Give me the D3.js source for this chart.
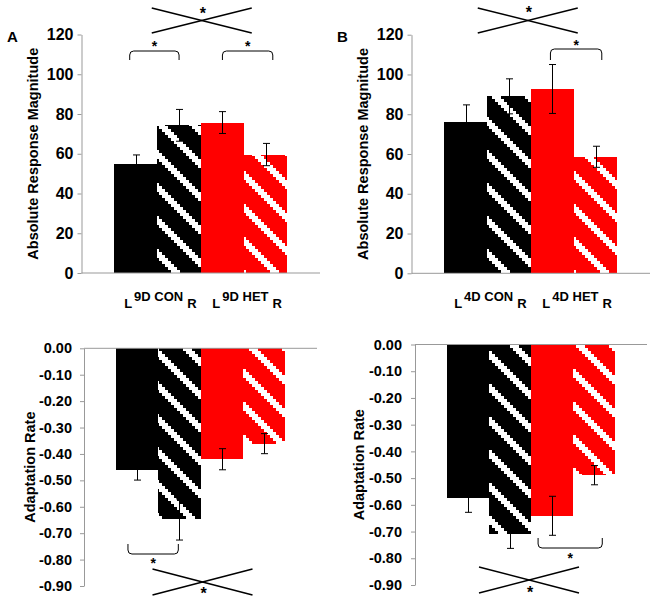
<!DOCTYPE html>
<html><head><meta charset="utf-8">
<script src="https://cdn.jsdelivr.net/npm/d3@7"></script>
<style>
body{margin:0;background:#fff;}
svg text{font-family:"Liberation Sans",Arial,sans-serif;font-weight:bold;fill:#000;}
</style></head>
<body><svg id="c" width="657" height="602"></svg>
<script>
// ---- data ----
const bars = ["L CON", "R CON", "L HET", "R HET"];
const barFill = ["black", "blackHatch", "red", "redHatch"];
const magA = [54.6, 74.3, 75.7, 59.6];
const magAErr = [4.8, 8.0, 5.5, 5.6];
const magB = [76.0, 89.0, 92.7, 58.6];
const magBErr = [8.7, 8.8, 12.3, 5.3];
const rateA = [-0.459, -0.648, -0.420, -0.361];
const rateAErr = [0.040, 0.078, 0.040, 0.038];
const rateB = [-0.576, -0.710, -0.641, -0.489];
const rateBErr = [0.052, 0.053, 0.073, 0.036];
const magTicks = [0, 20, 40, 60, 80, 100, 120];
const rateTicks = [0, -0.1, -0.2, -0.3, -0.4, -0.5, -0.6, -0.7, -0.8, -0.9];
const rateTickLabels = ["0.00", "-0.10", "-0.20", "-0.30", "-0.40", "-0.50", "-0.60", "-0.70", "-0.80", "-0.90"];
const groupsA = ["9D CON", "9D HET"];
const groupsB = ["4D CON", "4D HET"];

const svg = d3.select("#c");
const defs = svg.append("defs");
function makePattern(id, color) {
  const c = 3, n = 11, P = c * n, w = 3;
  const p = defs.append("pattern").attr("id", id).attr("patternUnits", "userSpaceOnUse")
    .attr("width", P).attr("height", P);
  p.append("rect").attr("width", P).attr("height", P).attr("fill", color);
  for (let i = 0; i < n; i++) {
    for (let k = 0; k < w; k++) {
      const col = (i + k) % n;
      p.append("rect").attr("x", col * c).attr("y", i * c).attr("width", c).attr("height", c)
        .attr("fill", "#fff").attr("shape-rendering", "crispEdges");
    }
  }
}
makePattern("blackHatch", "#000");
makePattern("redHatch", "#ff0000");
const fillOf = f => f === "black" ? "#000" : f === "red" ? "#ff0000" : `url(#${f})`;

function panel(o) {
  const g = svg.append("g");
  const x = d3.scaleBand().domain(bars).range([o.x0, o.x1]).paddingInner(0).paddingOuter(0.75);
  const y = d3.scaleLinear().domain(o.domain).range([o.yA, o.yB]);
  const base = y(0);
  g.selectAll("rect.bar").data(o.values).join("rect").attr("class", "bar")
    .attr("x", (d, i) => x(bars[i])).attr("width", x.bandwidth())
    .attr("y", d => Math.min(y(d), base)).attr("height", d => Math.abs(y(d) - base))
    .attr("fill", (d, i) => fillOf(barFill[i])).attr("shape-rendering", "crispEdges");
  o.values.forEach((v, i) => {
    const cx = Math.round(x(bars[i]) + x.bandwidth() / 2) + 0.5;
    const y1 = y(v - o.errs[i]), y2 = y(v + o.errs[i]);
    g.append("line").attr("x1", cx).attr("x2", cx).attr("y1", y1).attr("y2", y2).attr("stroke", "#000").attr("stroke-width", 1);
    [y1, y2].forEach(yy => g.append("line").attr("x1", cx - 3.5).attr("x2", cx + 3.5).attr("y1", yy).attr("y2", yy).attr("stroke", "#000").attr("stroke-width", 1));
  });
  const ax = g.append("g").attr("transform", `translate(${o.x0},0)`)
    .call(d3.axisLeft(y).tickValues(o.ticks).tickSize(4).tickSizeOuter(0).tickPadding(o.tickPad)
      .tickFormat((d, i) => o.tickLabels[i]));
  ax.select(".domain").attr("stroke", "#999");
  ax.selectAll(".tick line").attr("stroke", "#999");
  ax.selectAll(".tick text").attr("font-size", o.tickFont).attr("fill", "#000")
    .style("font-family", '"Liberation Sans",Arial,sans-serif').style("font-weight", "bold");
  g.append("line").attr("x1", o.x0).attr("x2", o.x1).attr("y1", base).attr("y2", base).attr("stroke", "#999");
  g.append("text").attr("transform", `translate(${o.titleX},${(o.yA + o.yB) / 2}) rotate(-90)`)
    .attr("text-anchor", "middle").attr("dy", "0.35em").attr("font-size", 14.5).text(o.title);
  return { x, y, g };
}

function cross(cx, yT, yB, starY) {
  svg.append("line").attr("x1", cx - 50).attr("y1", yT).attr("x2", cx + 50).attr("y2", yB).attr("stroke", "#000").attr("stroke-width", 1.5);
  svg.append("line").attr("x1", cx - 50).attr("y1", yB).attr("x2", cx + 50).attr("y2", yT).attr("stroke", "#000").attr("stroke-width", 1.5);
  svg.append("text").attr("x", cx + 1).attr("y", starY).attr("text-anchor", "middle").attr("font-size", 16).text("*");
}
function bracket(xa, xb, yLine, yEnd, starY) {
  const dir = yEnd > yLine ? 1 : -1, r = 4;
  svg.append("path").attr("d", `M${xa},${yEnd} L${xa},${yLine + dir * r} Q${xa},${yLine} ${xa + r},${yLine} L${xb - r},${yLine} Q${xb},${yLine} ${xb},${yLine + dir * r} L${xb},${yEnd}`)
    .attr("fill", "none").attr("stroke", "#000").attr("stroke-width", 1);
  svg.append("text").attr("x", (xa + xb) / 2).attr("y", starY).attr("text-anchor", "middle").attr("font-size", 14).text("*");
}
function groupLabel(cx, name) {
  const t = svg.append("text").attr("x", cx + 3).attr("y", 308).attr("text-anchor", "middle").attr("font-size", 13);
  t.append("tspan").text("L");
  t.append("tspan").attr("dx", 2).attr("dy", -7).text(name);
  t.append("tspan").attr("dx", 4).attr("dy", 7).text("R");
}

const pA = panel({ x0: 81.5, x1: 320, yA: 273, yB: 34.5, domain: [0, 120], values: magA, errs: magAErr,
  ticks: magTicks, tickLabels: magTicks.map(String), tickFont: 16, tickPad: 4, titleX: 33, title: "Absolute Response Magnitude" });
const pB = panel({ x0: 411.5, x1: 650, yA: 273.3, yB: 34.7, domain: [0, 120], values: magB, errs: magBErr,
  ticks: magTicks, tickLabels: magTicks.map(String), tickFont: 16, tickPad: 4, titleX: 363, title: "Absolute Response Magnitude" });
const pC = panel({ x0: 84, x1: 317, yA: 348.3, yB: 586, domain: [0, -0.9], values: rateA, errs: rateAErr,
  ticks: rateTicks, tickLabels: rateTickLabels, tickFont: 14.5, tickPad: 8, titleX: 30, title: "Adaptation Rate" });
const pD = panel({ x0: 415, x1: 647, yA: 344.5, yB: 585, domain: [0, -0.9], values: rateB, errs: rateBErr,
  ticks: rateTicks, tickLabels: rateTickLabels, tickFont: 14.5, tickPad: 9, titleX: 359, title: "Adaptation Rate" });

[[pA, groupsA], [pB, groupsB]].forEach(([p, gr]) => {
  groupLabel(p.x(bars[1]), gr[0]);
  groupLabel(p.x(bars[3]), gr[1]);
});

svg.append("text").attr("x", 7).attr("y", 42).attr("font-size", 15).text("A");
svg.append("text").attr("x", 337).attr("y", 42).attr("font-size", 15).text("B");

const ctr = p => (p.x(bars[0]) + p.x(bars[3]) + p.x.bandwidth()) / 2;
const bc = (p, i) => p.x(bars[i]) + p.x.bandwidth() / 2;
cross(ctr(pA) + 1, 8, 33, 19);
bracket(bc(pA, 0) - 6, bc(pA, 1), 51, 60, 51);
bracket(bc(pA, 2), bc(pA, 3) + 7, 51, 60, 51);
cross(ctr(pB) - 3, 8, 33, 18);
bracket(bc(pB, 2) - 2, bc(pB, 3) + 6, 49, 60, 50);
cross(ctr(pC) + 2, 569, 595, 599);
bracket(bc(pC, 0) - 9, bc(pC, 1) - 1, 554, 544, 568);
cross(ctr(pD) - 2, 567, 593, 598);
bracket(bc(pD, 2) - 14, bc(pD, 3) + 8, 548, 538, 563);
</script></body></html>
